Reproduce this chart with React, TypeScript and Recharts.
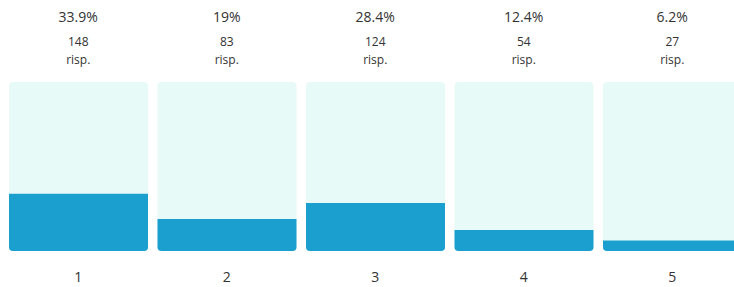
import { BarChart, Bar, XAxis, YAxis } from "recharts";

const categories = ["1", "2", "3", "4", "5"];
const percents = [33.9, 19, 28.4, 12.4, 6.2];
const counts = [148, 83, 124, 54, 27];

const data = categories.map((name, i) => ({
  name,
  pct: percents[i],
  count: counts[i],
}));

const FONT = "'Open Sans', 'Noto Sans', sans-serif";

// top labels: percentage, count, "risp."
function TopTick({ x, y, payload }: { x?: number; y?: number; payload?: { index: number } }) {
  const row = data[payload?.index ?? 0];
  const cx = Number(x ?? 0);
  const cy = Number(y ?? 0);
  return (
    <g fontFamily={FONT} fill="#333" textAnchor="middle">
      <text x={cx} y={cy - 58} dominantBaseline="central" fontSize={14}>
        {`${row.pct}%`}
      </text>
      <text x={cx} y={cy - 33} dominantBaseline="central" fontSize={12}>
        {row.count}
      </text>
      <text x={cx} y={cy - 15} dominantBaseline="central" fontSize={12}>
        risp.
      </text>
    </g>
  );
}

function BottomTick({ x, y, payload }: { x?: number; y?: number; payload?: { value: string } }) {
  return (
    <text
      x={Number(x ?? 0)}
      y={Number(y ?? 0) + 17}
      dominantBaseline="central"
      textAnchor="middle"
      fontFamily={FONT}
      fontSize={14}
      fill="#333"
    >
      {payload?.value}
    </text>
  );
}

export default function App() {
  return (
    <div
      style={{
        position: "fixed",
        left: 0,
        top: 0,
        width: 734,
        height: 287,
        overflow: "hidden",
        background: "#fff",
      }}
    >
      <BarChart
        width={750}
        height={287}
        data={data}
        margin={{ top: 0, right: 3.5, left: 4, bottom: 0 }}
      >
        <XAxis
          xAxisId="top"
          orientation="top"
          dataKey="name"
          height={82}
          axisLine={false}
          tickLine={false}
          tick={<TopTick />}
          interval={0}
        />
        <XAxis
          dataKey="name"
          height={36}
          axisLine={false}
          tickLine={false}
          tick={<BottomTick />}
          interval={0}
        />
        <YAxis hide domain={[0, 100]} />
        <Bar
          dataKey="pct"
          barSize={139}
          fill="#1a9fcf"
          radius={[0, 0, 4, 4]}
          background={{ fill: "#e8faf8", radius: 4 }}
          isAnimationActive={false}
        />
      </BarChart>
    </div>
  );
}
